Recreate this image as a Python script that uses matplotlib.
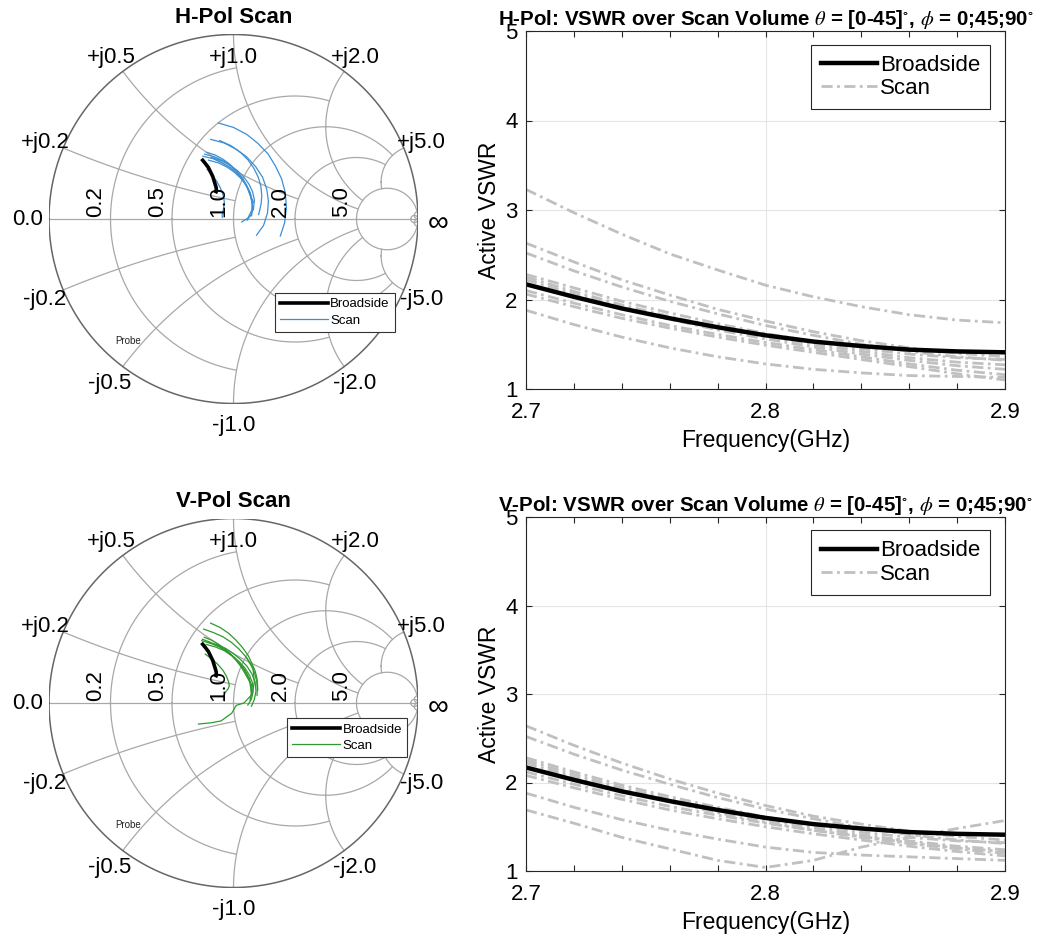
import numpy as np
import matplotlib
matplotlib.use("Agg")
import matplotlib.pyplot as plt
from matplotlib.lines import Line2D
from matplotlib.ticker import MultipleLocator

plt.rcParams["font.family"] = ["Liberation Sans", "DejaVu Sans"]
plt.rcParams["mathtext.fontset"] = "stix"

# frequency samples (GHz)
FREQ = [2.70, 2.72, 2.74, 2.76, 2.78, 2.80, 2.82, 2.84, 2.86, 2.88, 2.90]

# active VSWR at broadside (same element for both pols)
BROADSIDE_VSWR = [2.17, 2.03, 1.90, 1.79, 1.69, 1.60, 1.53, 1.48, 1.44, 1.42, 1.41]
BROADSIDE_PHASE = [118, 117, 116, 116, 116, 117, 118, 119, 121, 123, 125]

# H-pol scan cases: active VSWR and reflection phase (deg)
H_SCAN_VSWR = [
    [3.23, 2.97, 2.73, 2.51, 2.33, 2.16, 2.03, 1.92, 1.83, 1.77, 1.74],
    [2.63, 2.42, 2.22, 2.05, 1.89, 1.76, 1.64, 1.54, 1.46, 1.40, 1.36],
    [2.52, 2.32, 2.14, 1.98, 1.84, 1.71, 1.60, 1.50, 1.42, 1.36, 1.32],
    [2.28, 2.13, 1.98, 1.85, 1.73, 1.62, 1.53, 1.45, 1.39, 1.35, 1.33],
    [2.25, 2.09, 1.94, 1.81, 1.69, 1.59, 1.50, 1.42, 1.35, 1.30, 1.27],
    [2.22, 2.06, 1.91, 1.78, 1.66, 1.56, 1.47, 1.39, 1.32, 1.26, 1.22],
    [2.10, 1.96, 1.83, 1.71, 1.61, 1.52, 1.44, 1.36, 1.28, 1.21, 1.16],
    [2.06, 1.92, 1.79, 1.68, 1.58, 1.49, 1.41, 1.33, 1.25, 1.17, 1.10],
    [1.88, 1.72, 1.58, 1.46, 1.36, 1.28, 1.22, 1.18, 1.15, 1.14, 1.13],
]
H_SCAN_PHASE = [
    [99, 90, 81, 72, 62, 52, 40, 27, 12, -4, -20],
    [106, 97, 88, 78, 67, 55, 42, 27, 10, -12, -35],
    [100, 92, 84, 76, 68, 59, 50, 40, 30, 20, 10],
    [112, 106, 100, 94, 88, 81, 74, 66, 58, 49, 40],
    [114, 107, 100, 93, 86, 78, 70, 61, 51, 38, 25],
    [116, 109, 102, 94, 86, 77, 67, 56, 43, 27, 10],
    [110, 102, 94, 85, 76, 66, 55, 42, 28, 12, -5],
    [113, 105, 97, 89, 80, 70, 58, 44, 26, 4, -20],
    [118, 116, 114, 113, 113, 115, 120, 130, 145, 160, 172],
]

# V-pol scan cases
V_SCAN_VSWR = [
    [2.64, 2.42, 2.22, 2.04, 1.88, 1.74, 1.62, 1.53, 1.45, 1.39, 1.35],
    [2.52, 2.32, 2.14, 1.98, 1.83, 1.70, 1.59, 1.49, 1.41, 1.35, 1.31],
    [2.28, 2.12, 1.97, 1.84, 1.72, 1.61, 1.52, 1.44, 1.38, 1.34, 1.32],
    [2.25, 2.09, 1.94, 1.81, 1.69, 1.58, 1.49, 1.41, 1.34, 1.28, 1.24],
    [2.22, 2.06, 1.91, 1.78, 1.66, 1.55, 1.46, 1.38, 1.31, 1.25, 1.20],
    [2.12, 1.98, 1.85, 1.73, 1.63, 1.54, 1.46, 1.39, 1.32, 1.26, 1.22],
    [2.08, 1.94, 1.81, 1.69, 1.59, 1.50, 1.42, 1.35, 1.28, 1.22, 1.17],
    [1.88, 1.72, 1.58, 1.46, 1.36, 1.27, 1.21, 1.18, 1.16, 1.14, 1.12],
    [1.69, 1.54, 1.38, 1.25, 1.12, 1.04, 1.12, 1.27, 1.38, 1.48, 1.57],
]
V_SCAN_PHASE = [
    [106, 100, 94, 88, 81, 73, 65, 56, 46, 37, 28],
    [112, 106, 99, 92, 84, 75, 65, 54, 42, 30, 18],
    [114, 109, 104, 99, 93, 87, 80, 72, 63, 53, 43],
    [116, 111, 105, 99, 92, 84, 75, 65, 53, 40, 26],
    [117, 111, 104, 97, 89, 80, 70, 58, 44, 28, 10],
    [113, 106, 98, 90, 81, 70, 58, 44, 28, 10, -10],
    [115, 108, 100, 92, 83, 72, 60, 46, 30, 12, -8],
    [120, 116, 112, 108, 105, 103, 104, 110, 125, 145, 165],
    [74, 60, 45, 25, 0, -40, -100, -125, -138, -145, -149],
]

# smith grid: value -> clip limit of the opposite family
R_CIRCLES = [0.2, 0.5, 1.0, 2.0, 5.0, 50.0]
R_CLIP = [1.0, 2.0, 5.0, 5.0, np.inf, np.inf]
X_ARCS = [0.2, 0.5, 1.0, 2.0, 5.0, 50.0]
X_CLIP = [1.0, 2.0, 5.0, 5.0, 5.0, np.inf]

R_LABELS = ["0.2", "0.5", "1.0", "2.0", "5.0"]
# reactance label anchors (gamma plane)
X_LABELS = [
    ("+j0.2", -1.022, 0.415), ("+j0.5", -0.664, 0.875), ("+j1.0", 0.0, 0.875),
    ("+j2.0", 0.659, 0.875), ("+j5.0", 1.016, 0.415),
    ("-j0.2", -1.022, -0.435), ("-j0.5", -0.669, -0.894), ("-j1.0", 0.0, -1.117),
    ("-j2.0", 0.659, -0.894), ("-j5.0", 1.02, -0.435),
    ("0.0", -1.114, -0.005),
]

GRID_C = "#a8a8a8"


def to_gamma(vswr, phase):
    v = np.asarray(vswr, float)
    mag = (v - 1) / (v + 1)
    return mag * np.exp(1j * np.deg2rad(phase))


def draw_smith_grid(ax):
    t = np.linspace(-np.pi, np.pi, 4001)
    with np.errstate(divide="ignore", invalid="ignore"):
        for r, clip in zip(R_CIRCLES, R_CLIP):
            g = r / (1 + r) + np.exp(1j * t) / (1 + r)
            z = (1 + g) / (1 - g)
            keep = np.abs(z.imag) <= clip
            ax.plot(np.where(keep, g.real, np.nan), np.where(keep, g.imag, np.nan),
                    color=GRID_C, lw=0.9)
        for x, clip in zip(X_ARCS, X_CLIP):
            for s in (1, -1):
                g = 1 + 1j / (s * x) + np.exp(1j * t) / x
                z = (1 + g) / (1 - g)
                keep = (np.abs(g) <= 1 + 1e-9) & (z.real <= clip)
                ax.plot(np.where(keep, g.real, np.nan), np.where(keep, g.imag, np.nan),
                        color=GRID_C, lw=0.9)
    ax.plot([-1, 1], [0, 0], color=GRID_C, lw=0.9)
    c = np.exp(1j * t)
    ax.plot(c.real, c.imag, color="#666666", lw=1.1)

    for r, lab in zip(R_CIRCLES, R_LABELS):
        left = (r - 1) / (r + 1)
        ax.text(left - 0.022, 0.012, lab, rotation=90, ha="right", va="bottom",
                fontsize=16)
    for lab, gx, gy in X_LABELS:
        ax.text(gx, gy, lab, ha="center", va="center", fontsize=16)
    # infinity mark at the open-circuit end
    ax.text(1.108, -0.02, "\u221e", ha="center", va="center", fontsize=21,
            family="Liberation Sans")


def smith_panel(rect, title, scan_vswr, scan_phase, color, legend_anchor):
    ax = fig.add_axes(rect)
    ax.set_xlim(-1, 1)
    ax.set_ylim(-1, 1)
    ax.set_aspect("equal")
    ax.axis("off")
    draw_smith_grid(ax)

    for v, p in zip(scan_vswr, scan_phase):
        g = to_gamma(v, p)
        ax.plot(g.real, g.imag, color=color, lw=0.9)
    g = to_gamma(BROADSIDE_VSWR, BROADSIDE_PHASE)
    ax.plot(g.real, g.imag, color="black", lw=2.6, solid_capstyle="butt")

    ax.text(0, 1.09, title, ha="center", va="center", fontsize=16, fontweight="bold")
    ax.text(-0.572, -0.661, "Probe", ha="center", va="center", fontsize=7, color="#222222")

    handles = [Line2D([], [], color="black", lw=2.6),
               Line2D([], [], color=color, lw=0.9)]
    leg = ax.legend(handles, ["Broadside", "Scan"], loc="upper left",
                    bbox_to_anchor=legend_anchor, fontsize=9.5, frameon=True,
                    fancybox=False, framealpha=1, edgecolor="#333333",
                    handlelength=3.6, handletextpad=0.2, borderpad=0.4,
                    labelspacing=0.3, borderaxespad=0)
    leg.get_frame().set_linewidth(0.8)
    return ax


def vswr_panel(rect, title, scan_vswr):
    ax = fig.add_axes(rect)
    scan_style = dict(color="#c0c0c0", lw=2.0, ls=(0, (4, 1.6, 1, 1.6)))
    for v in scan_vswr:
        ax.plot(FREQ, v, **scan_style)
    ax.plot(FREQ, BROADSIDE_VSWR, color="black", lw=3.2)

    ax.set_xlim(2.7, 2.9)
    ax.set_ylim(1, 5)
    ax.set_xticks([2.7, 2.8, 2.9])
    ax.set_yticks([1, 2, 3, 4, 5])
    ax.xaxis.set_minor_locator(MultipleLocator(0.02))
    ax.tick_params(which="both", direction="in", top=True, right=True,
                   labelsize=16, length=4, width=0.8, color="#262626")
    ax.tick_params(axis="x", pad=9)
    ax.tick_params(axis="y", pad=6)
    ax.grid(True, which="major", color="#e4e4e4", lw=0.8)
    for sp in ax.spines.values():
        sp.set_color("#262626")
        sp.set_linewidth(0.8)

    ax.set_xlabel("Frequency(GHz)", fontsize=16.5, labelpad=5)
    ax.set_ylabel("Active VSWR", fontsize=16.5, labelpad=3)
    ax.set_title(title, fontsize=14.8, fontweight="bold", pad=3)

    handles = [Line2D([], [], color="black", lw=3.2), Line2D([], [], **scan_style)]
    leg = ax.legend(handles, ["Broadside", "Scan"], loc="upper right",
                    bbox_to_anchor=(0.969, 0.962), fontsize=16, frameon=True,
                    fancybox=False, framealpha=1, edgecolor="#262626",
                    handlelength=2.5, handletextpad=0.15, borderpad=0.45,
                    labelspacing=0.1, borderaxespad=0)
    leg.get_frame().set_linewidth(0.8)
    return ax


fig = plt.figure(figsize=(10.41, 9.42), dpi=100)

W, H = 1041.0, 942.0
smith_r = 184.5
smith_panel([(233.5 - smith_r) / W, 1 - (219 + smith_r) / H, 2 * smith_r / W, 2 * smith_r / H],
            "H-Pol Scan", H_SCAN_VSWR, H_SCAN_PHASE, "#3b8fd4", (0.612, 0.300))
smith_panel([(233.5 - smith_r) / W, 1 - (703 + smith_r) / H, 2 * smith_r / W, 2 * smith_r / H],
            "V-Pol Scan", V_SCAN_VSWR, V_SCAN_PHASE, "#2e9a2e", (0.645, 0.459))

vswr_panel([526 / W, 1 - 389 / H, 479 / W, 358 / H],
           r"H-Pol: VSWR over Scan Volume $\theta$ = [0-45]$^{\circ}$, $\phi$ = 0;45;90$^{\circ}$",
           H_SCAN_VSWR)
vswr_panel([526 / W, 1 - 871 / H, 479 / W, 354 / H],
           r"V-Pol: VSWR over Scan Volume $\theta$ = [0-45]$^{\circ}$, $\phi$ = 0;45;90$^{\circ}$",
           V_SCAN_VSWR)

fig.savefig("out.png", dpi=100, facecolor="white")
